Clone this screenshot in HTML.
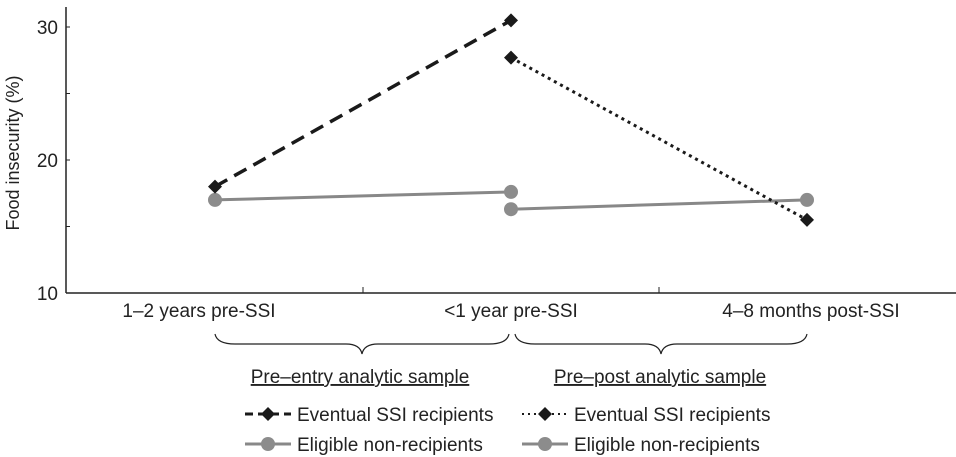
<!DOCTYPE html>
<html><head><meta charset="utf-8"><style>
body{margin:0;background:#fff}
svg{display:block;font-family:"Liberation Sans",Arial,sans-serif}
</style></head><body>
<svg id="chart" width="956" height="457" viewBox="0 0 956 457">
<g id="axes"></g><g id="series"></g><g id="annot"></g>
</svg>
<script>
const categories = ["1\u20132 years pre-SSI", "<1 year pre-SSI", "4\u20138 months post-SSI"];
const preEntryRecipients = [18.0, 30.5];
const preEntryNonRecipients = [17.0, 17.6];
const prePostRecipients = [27.7, 15.5];
const prePostNonRecipients = [16.3, 17.0];
const yTicks = [10, 20, 30];
const yMinorTicks = [15, 25];

const NS = "http://www.w3.org/2000/svg";
const xAxis0 = 66, xAxis1 = 956, yBase = 293;
const labelShift = [-16, 0, 4];
function x(i){ return 215 + i * 296; }
function y(v){ return 293 - (v - 10) * 13.3; }
function mk(tag, attrs, parent, text){
  const e = document.createElementNS(NS, tag);
  for (const k in attrs) e.setAttribute(k, attrs[k]);
  if (text !== undefined) e.textContent = text;
  parent.appendChild(e);
  return e;
}
const axes = document.getElementById('axes');
const series = document.getElementById('series');
const annot = document.getElementById('annot');

let a = mk('line', {x1:xAxis0, y1:y(31.5), x2:xAxis0, y2:yBase, stroke:'#222', 'stroke-width':1.5}, axes);


a = mk('line', {x1:xAxis0, y1:yBase, x2:xAxis1, y2:yBase, stroke:'#222', 'stroke-width':1.5}, axes);


yTicks.forEach(v => {
  const t = mk('text', {x:xAxis0 - 8, y:y(v) + 7, 'text-anchor':'end', 'font-size':19, fill:'#222'}, axes, String(v));
  
  
  const l = mk('line', {x1:xAxis0, y1:y(v), x2:xAxis0 + 4, y2:y(v), stroke:'#222', 'stroke-width':1}, axes);
  
  
});
yMinorTicks.forEach(v => {
  const l = mk('line', {x1:xAxis0, y1:y(v), x2:xAxis0 + 4, y2:y(v), stroke:'#222', 'stroke-width':1}, axes);
  
  
});
[0.5, 1.5].forEach(i => {
  const l = mk('line', {x1:x(i), y1:yBase, x2:x(i), y2:yBase - 6, stroke:'#222', 'stroke-width':1}, axes);
  
  
});
categories.forEach((c, i) => {
  const t = mk('text', {x:x(i) + labelShift[i], y:317, 'text-anchor':'middle', 'font-size':19, fill:'#222'}, axes, c);
  
  
});
const yt = mk('text', {x:0, y:0, transform:'translate(19,153) rotate(-90)', 'text-anchor':'middle', 'font-size':18, fill:'#222'}, axes, 'Food insecurity (%)');



function grayLine(vals, off, name){
  const g = mk('g', {}, series);
  
  
  mk('line', {x1:x(off), y1:y(vals[0]), x2:x(off+1), y2:y(vals[1]), stroke:'#888', 'stroke-width':3}, g);
  vals.forEach((v, i) => {
    const c = mk('circle', {cx:x(off+i), cy:y(v), r:7, fill:'#8c8c8c'}, g);
    
    
  });
}
function diamond(cx, cy, g){
  const s = 7;
  const p = mk('polygon', {points:`${cx},${cy-s} ${cx+s},${cy} ${cx},${cy+s} ${cx-s},${cy}`, fill:'#1a1a1a'}, g);
  
  
}
function blackLine(vals, off, dash, width, name){
  const g = mk('g', {}, series);
  
  
  mk('line', {x1:x(off), y1:y(vals[0]), x2:x(off+1), y2:y(vals[1]), stroke:'#1a1a1a', 'stroke-width':width, 'stroke-dasharray':dash}, g);
  vals.forEach((v, i) => diamond(x(off+i), y(v), g));
}
grayLine(preEntryNonRecipients, 0, 'pre-entry-non-recipients-line');
grayLine(prePostNonRecipients, 1, 'pre-post-non-recipients-line');
blackLine(preEntryRecipients, 0, '14,8', 3.5, 'pre-entry-recipients-line');
blackLine(prePostRecipients, 1, '3,4', 3, 'pre-post-recipients-line');

function brace(x0, x1, name){
  const m = (x0 + x1) / 2, t = 334, b = 354;
  const p = mk('path', {d:`M${x0},${t} Q${x0+2},${t+10} ${x0+20},${t+10} L${m-16},${t+10} Q${m-2},${t+10} ${m},${b} Q${m+2},${t+10} ${m+16},${t+10} L${x1-20},${t+10} Q${x1-2},${t+10} ${x1},${t}`, fill:'none', stroke:'#222', 'stroke-width':1.2}, annot);
  
  
}
brace(215, 509, 'pre-entry-brace');
brace(515, 807, 'pre-post-brace');
[['Pre\u2013entry analytic sample', 360, 'pre-entry-sample-label'], ['Pre\u2013post analytic sample', 660, 'pre-post-sample-label']].forEach(([s, cx, n]) => {
  const t = mk('text', {x:cx, y:383, 'text-anchor':'middle', 'font-size':19, fill:'#222', 'text-decoration':'underline'}, annot, s);
  
  
});

function legendEntry(lx, ly, kind, label, name){
  const g = mk('g', {}, annot);
  
  
  const cx = lx + 23;
  if (kind === 'gray') {
    mk('line', {x1:lx, y1:ly, x2:lx+46, y2:ly, stroke:'#888', 'stroke-width':3}, g);
    mk('circle', {cx:cx, cy:ly, r:7, fill:'#8c8c8c'}, g);
  } else {
    mk('line', {x1:lx, y1:ly, x2:lx+46, y2:ly, stroke:'#1a1a1a', 'stroke-width':kind==='dash'?3:2, 'stroke-dasharray':kind==='dash'?'8,5':'2,4'}, g);
    diamond(cx, ly, g);
  }
  mk('text', {x:lx+52, y:ly+7, 'font-size':19, fill:'#222'}, g, label);
}
legendEntry(245, 414, 'dash', 'Eventual SSI recipients', 'legend-pre-entry-recipients');
legendEntry(245, 444, 'gray', 'Eligible non-recipients', 'legend-pre-entry-non-recipients');
legendEntry(522, 414, 'dot', 'Eventual SSI recipients', 'legend-pre-post-recipients');
legendEntry(522, 444, 'gray', 'Eligible non-recipients', 'legend-pre-post-non-recipients');
</script>
</body></html>
